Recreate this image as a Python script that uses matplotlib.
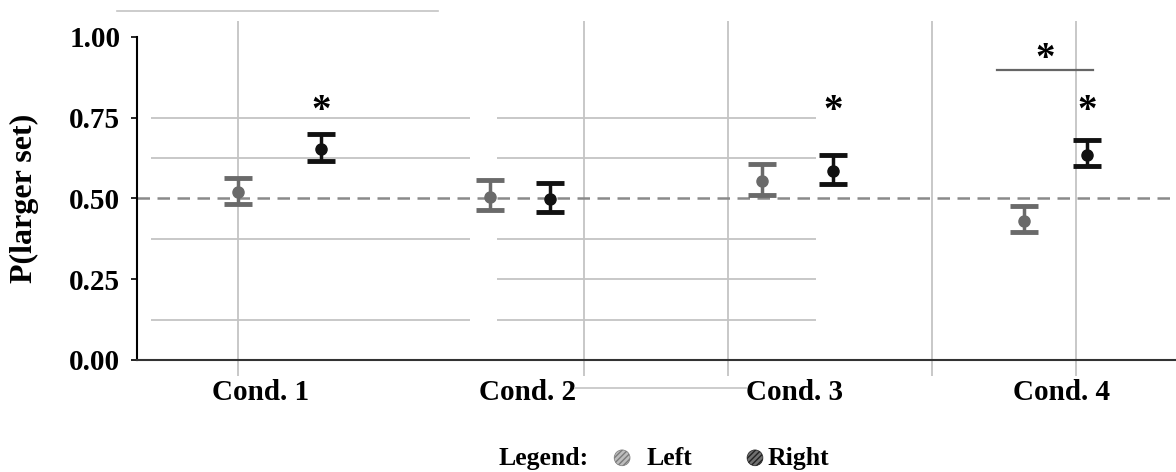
import matplotlib
matplotlib.use("Agg")
import matplotlib.pyplot as plt

# data
conditions = ["Cond. 1", "Cond. 2", "Cond. 3", "Cond. 4"]
left_mean = [0.520, 0.505, 0.554, 0.430]
left_low = [0.483, 0.464, 0.511, 0.396]
left_high = [0.563, 0.557, 0.607, 0.477]
right_mean = [0.653, 0.498, 0.585, 0.635]
right_low = [0.616, 0.458, 0.545, 0.600]
right_high = [0.700, 0.548, 0.635, 0.681]
right_sig = [True, False, True, True]
chance = 0.5

# layout
left_shift = [-0.086, -0.142, -0.124, -0.142]
right_shift = [0.225, 0.082, 0.142, 0.094]
FONT = "Liberation Serif"
LEFT_C = "#6a6a6a"
RIGHT_C = "#111111"
GRID_C = "#c4c4c4"

plt.rcParams["font.family"] = FONT
plt.rcParams["font.weight"] = "bold"

fig = plt.figure(figsize=(11.76, 4.72), dpi=100)
ax = fig.add_axes([0.1165, 0.2373, 0.8835, 0.7528])
ax.set_xlim(-0.464, 3.427)
ax.set_ylim(0, 1.1)

# scanned-looking grid pieces
for y in [0.125, 0.375, 0.625, 0.75]:
    ax.hlines(y, -0.412, 0.783, color=GRID_C, lw=1.3, zorder=1)
for y in [0.125, 0.25, 0.375, 0.625, 0.75]:
    ax.hlines(y, 0.884, 2.079, color=GRID_C, lw=1.3, zorder=1)
for x in [-0.086, 1.21, 1.749, 2.513, 3.052]:
    ax.vlines(x, -0.05, 1.05, color=GRID_C, lw=1.3, zorder=1, clip_on=False)
ax.plot([-0.54, 0.663], [1.08, 1.08], color=GRID_C, lw=1.2, clip_on=False)
ax.plot([1.176, 1.816], [-0.087, -0.087], color=GRID_C, lw=1.2, clip_on=False)

ax.axhline(chance, color="#8a8a8a", lw=1.8, ls=(0, (5, 3)), zorder=2)

xs = range(len(conditions))
lx = [i + s for i, s in zip(xs, left_shift)]
rx = [i + s for i, s in zip(xs, right_shift)]

ax.errorbar(lx, left_mean,
            yerr=[[m - lo for m, lo in zip(left_mean, left_low)],
                  [hi - m for m, hi in zip(left_mean, left_high)]],
            fmt="o", color=LEFT_C, ms=8, elinewidth=2.5, capsize=10, capthick=3.5, zorder=4)
ax.errorbar(rx, right_mean,
            yerr=[[m - lo for m, lo in zip(right_mean, right_low)],
                  [hi - m for m, hi in zip(right_mean, right_high)]],
            fmt="o", color=RIGHT_C, ms=8, elinewidth=2.5, capsize=10, capthick=3.5, zorder=4)

# significance stars
for x, sig in zip(rx, right_sig):
    if sig:
        ax.text(x, 0.77, "*", ha="center", va="center", fontsize=28, color="black")
bx0, bx1 = lx[3] - 0.1, rx[3] + 0.022
ax.plot([bx0, bx1], [0.898, 0.898], color="#666666", lw=1.6)
ax.text((bx0 + bx1) / 2, 0.93, "*", ha="center", va="center", fontsize=28, color="black")

for s in ["top", "right"]:
    ax.spines[s].set_visible(False)
ax.spines["left"].set_bounds(0, 1)
ax.spines["left"].set_linewidth(1.5)
ax.spines["bottom"].set_linewidth(1.5)
ax.spines["bottom"].set_color("#333333")

ax.set_yticks([0, 0.25, 0.5, 0.75, 1.0])
ax.set_yticklabels(["0.00", "0.25", "0.50", "0.75", "1.00"])
ax.set_xticks(list(xs))
ax.set_xticklabels(conditions)
ax.tick_params(axis="y", length=4, width=1.2, pad=8, labelsize=21)
ax.tick_params(axis="x", length=0, pad=14, labelsize=21)
ax.set_ylabel("P(larger set)", fontsize=23, fontweight="bold")
ax.yaxis.set_label_coords(-0.094, 0.456)

# legend row
fig.text(0.4235, 0.028, "Legend:", fontsize=18.5, fontweight="bold", va="center")
fig.text(0.550, 0.028, "Left", fontsize=18.5, fontweight="bold", va="center")
fig.text(0.653, 0.028, "Right", fontsize=18.5, fontweight="bold", va="center")
leg_ax = fig.add_axes([0, 0, 1, 1], facecolor="none")
leg_ax.set_xlim(0, 1)
leg_ax.set_ylim(0, 1)
leg_ax.axis("off")
leg_ax.scatter([0.529], [0.030], s=130, facecolor="#bdbdbd", edgecolor="#7a7a7a",
               hatch="//////", lw=0.5)
leg_ax.scatter([0.642], [0.030], s=130, facecolor="#707070", edgecolor="#222222",
               hatch="//////", lw=0.5)

fig.savefig("out.png", dpi=100)
